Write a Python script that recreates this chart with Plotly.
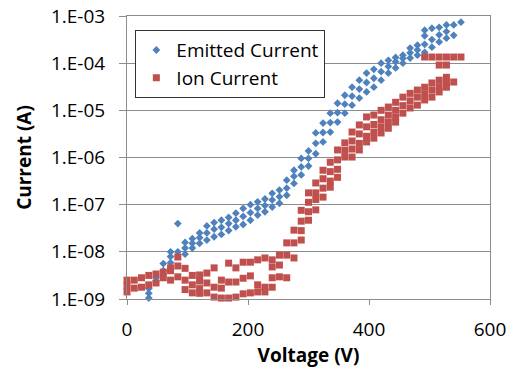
import plotly.graph_objects as go

# ---------------- data ----------------
# Voltage steps (V) and, for each step, the log10 of the currents (A) seen there
emitted_volts = [36, 48, 60, 72, 84, 96, 108, 120, 132, 144, 156, 168, 180, 192, 204,
                 216, 228, 240, 252, 264, 276, 288, 300, 312, 324, 336, 348, 360, 372,
                 384, 396, 408, 420, 432, 444, 456, 468, 480, 492, 504, 516, 528, 540, 552]
emitted_log10 = [
    [-8.98, -8.88, -8.78], [-8.62, -8.55], [-8.40, -8.25], [-8.23, -8.10, -8.00],
    [-7.40, -8.00], [-8.05, -7.92, -7.80], [-7.92, -7.82, -7.72], [-7.82, -7.70, -7.60],
    [-7.75, -7.60, -7.45], [-7.68, -7.52, -7.38], [-7.63, -7.48, -7.33], [-7.55, -7.40, -7.27],
    [-7.47, -7.33, -7.18], [-7.42, -7.25, -7.08], [-7.33, -7.17, -7.00], [-7.22, -7.08, -6.94],
    [-7.15, -7.02, -6.88], [-7.05, -6.90, -6.76], [-6.97, -6.83, -6.69], [-6.80, -6.65, -6.48],
    [-6.55, -6.40, -6.27], [-6.37, -6.20, -6.02], [-6.18, -6.02, -5.86], [-5.92, -5.70, -5.48],
    [-5.67, -5.47, -5.27], [-5.46, -5.26, -5.06], [-5.25, -5.05, -4.85], [-5.06, -4.87, -4.68],
    [-4.89, -4.70, -4.51], [-4.74, -4.55, -4.36], [-4.61, -4.41, -4.21], [-4.51, -4.32, -4.13],
    [-4.36, -4.18, -4.00], [-4.21, -4.07, -3.94], [-4.10, -3.97, -3.88], [-4.00, -3.90, -3.83],
    [-3.89, -3.78, -3.68], [-3.83, -3.72, -3.62], [-3.77, -3.60, -3.42, -3.30],
    [-3.66, -3.50, -3.26], [-3.55, -3.40, -3.24], [-3.47, -3.33, -3.19], [-3.41, -3.19], [-3.13],
]

ion_volts = [0, 12, 24, 36, 48, 60, 72, 84, 96, 108, 120, 132, 144, 156, 168, 180, 192,
             204, 216, 228, 240, 252, 264, 276, 288, 300, 312, 324, 336, 348, 360, 372,
             384, 396, 408, 420, 432, 444, 456, 468, 480, 492, 504, 516, 528, 540, 552]
ion_log10 = [
    [-8.85, -8.72, -8.60], [-8.77, -8.60], [-8.75, -8.55], [-8.70, -8.50], [-8.66, -8.47],
    [-8.55, -8.43], [-8.60, -8.40, -8.34], [-8.53, -8.30, -8.11], [-8.80, -8.60, -8.35],
    [-8.87, -8.70, -8.50], [-8.88, -8.78, -8.62, -8.49], [-8.87, -8.66, -8.45],
    [-8.96, -8.75, -8.34], [-8.98, -8.77, -8.60], [-8.98, -8.64, -8.24], [-8.96, -8.64, -8.34],
    [-8.89, -8.56, -8.22], [-8.87, -8.51, -8.22], [-8.85, -8.70, -8.17], [-8.85, -8.75, -8.13],
    [-8.75, -8.55, -8.32, -8.17], [-8.53, -8.28, -8.07], [-8.55, -8.07, -7.81],
    [-8.13, -7.81, -7.54], [-7.75, -7.55, -7.35, -7.12], [-7.33, -7.15, -6.95, -6.75],
    [-7.11, -6.89, -6.75, -6.54], [-6.84, -6.65, -6.45, -6.27], [-6.63, -6.50, -6.30, -6.10],
    [-6.42, -6.25, -6.05, -5.84], [-5.99, -5.85, -5.69], [-5.99, -5.82, -5.65, -5.46],
    [-5.84, -5.70, -5.50, -5.31], [-5.67, -5.55, -5.35, -5.14], [-5.59, -5.46, -5.30, -5.10],
    [-5.48, -5.35, -5.20, -5.00], [-5.38, -5.25, -5.10, -4.93], [-5.25, -5.15, -5.00, -4.83],
    [-5.06, -4.90, -4.72], [-4.95, -4.80, -4.64], [-4.89, -4.72, -4.57],
    [-4.78, -4.65, -4.51, -3.87], [-4.72, -4.57, -4.42, -3.87],
    [-4.61, -4.50, -4.36, -4.04, -3.87], [-4.51, -4.40, -4.30, -4.04, -3.87],
    [-4.40, -3.87], [-3.87],
]

y_tickvals = [1e-9, 1e-8, 1e-7, 1e-6, 1e-5, 1e-4, 1e-3]
y_ticktext = ["1.E-09", "1.E-08", "1.E-07", "1.E-06", "1.E-05", "1.E-04", "1.E-03"]
x_tickvals = [0, 200, 400, 600]


def flatten(volts, logs):
    xs, ys = [], []
    for v, vals in zip(volts, logs):
        for lv in vals:
            xs.append(v)
            ys.append(10 ** lv)
    return xs, ys


ex, ey = flatten(emitted_volts, emitted_log10)
ix, iy = flatten(ion_volts, ion_log10)

FONT = "Open Sans"
GRID = "#8c8c8c"

fig = go.Figure()
fig.add_trace(go.Scatter(
    x=ex, y=ey, mode="markers", name="Emitted Current", cliponaxis=False,
    marker=dict(symbol="diamond", size=6, color="#4F81BD", line=dict(width=0)),
))
fig.add_trace(go.Scatter(
    x=ix, y=iy, mode="markers", name="Ion Current", cliponaxis=False,
    marker=dict(symbol="square", size=7, color="#C0504D", line=dict(width=0)),
))

fig.update_layout(
    width=516, height=371,
    margin=dict(l=127, r=26, t=16, b=72),
    paper_bgcolor="white", plot_bgcolor="white",
    font=dict(family=FONT, size=19, color="black"),
    showlegend=True,
    legend=dict(
        x=0.023, y=0.95, xanchor="left", yanchor="top",
        bgcolor="white", bordercolor="#333333", borderwidth=1,
        font=dict(family=FONT, size=19, color="black"),
        itemwidth=30, tracegroupgap=0,
    ),
)
fig.update_xaxes(
    range=[0, 600], tickvals=x_tickvals, ticks="outside", ticklen=5,
    tickcolor=GRID, showline=True, linecolor=GRID, linewidth=1, mirror=True,
    showgrid=False, zeroline=False, ticklabelstandoff=8, automargin=False,
    title=dict(text="<b>Voltage (V)</b>", font=dict(family=FONT, size=19), standoff=4),
)
fig.update_yaxes(
    type="log", range=[-9, -3], tickvals=y_tickvals, ticktext=y_ticktext,
    ticks="outside", ticklen=7, tickcolor=GRID,
    showline=True, linecolor=GRID, linewidth=1, mirror=True, automargin=False,
    showgrid=True, gridcolor=GRID, gridwidth=1, zeroline=False, ticklabelstandoff=10,
    title=dict(text="<b>Current (A)</b>", font=dict(family=FONT, size=19), standoff=14),
)

fig.write_html("out.html")
